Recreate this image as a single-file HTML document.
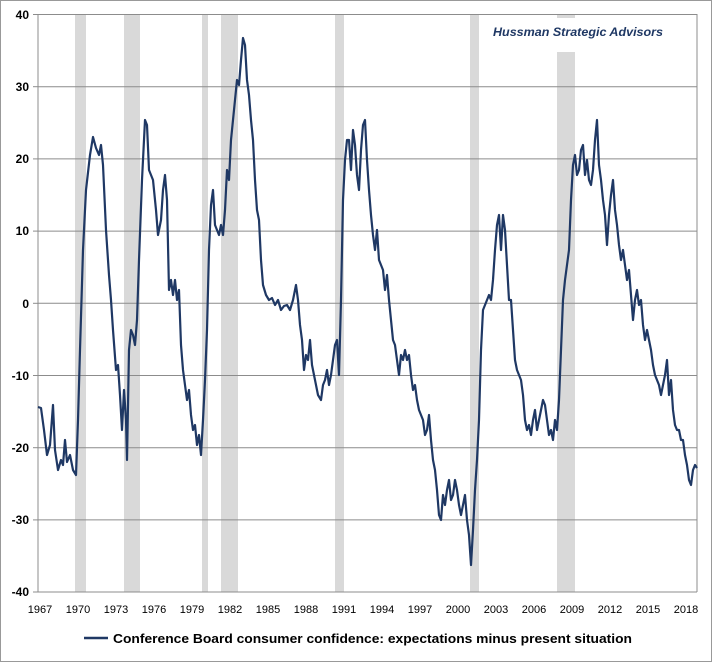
<!DOCTYPE html>
<html><head><style>body{margin:0;background:#fff}svg{display:block}</style></head><body>
<svg width="712" height="662" xmlns="http://www.w3.org/2000/svg" font-family="Liberation Sans, sans-serif">
<rect x="0.5" y="0.5" width="711" height="661" fill="#fff" stroke="#999"/>
<g fill="#d9d9d9">
<rect x="75" y="14" width="11" height="578"/><rect x="124" y="14" width="16" height="578"/>
<rect x="202" y="14" width="6" height="578"/><rect x="221" y="14" width="17" height="578"/>
<rect x="335" y="14" width="9" height="578"/><rect x="470" y="14" width="9" height="578"/>
<rect x="557" y="14" width="18" height="578"/></g>
<rect x="488" y="18" width="180" height="34" fill="#fff"/>
<g stroke="#8c8c8c" stroke-width="1">
<line x1="38" y1="14.5" x2="697" y2="14.5"/><line x1="38" y1="86.7" x2="697" y2="86.7"/>
<line x1="38" y1="158.9" x2="697" y2="158.9"/><line x1="38" y1="231.1" x2="697" y2="231.1"/>
<line x1="38" y1="303.3" x2="697" y2="303.3"/><line x1="38" y1="375.5" x2="697" y2="375.5"/>
<line x1="38" y1="447.7" x2="697" y2="447.7"/><line x1="38" y1="519.9" x2="697" y2="519.9"/>
<line x1="38" y1="592" x2="697" y2="592"/>
<line x1="38" y1="14" x2="38" y2="592"/><line x1="697" y1="14" x2="697" y2="592"/>
<line x1="33" y1="14.5" x2="38" y2="14.5"/><line x1="33" y1="86.7" x2="38" y2="86.7"/><line x1="33" y1="158.9" x2="38" y2="158.9"/><line x1="33" y1="231.1" x2="38" y2="231.1"/><line x1="33" y1="303.3" x2="38" y2="303.3"/><line x1="33" y1="375.5" x2="38" y2="375.5"/><line x1="33" y1="447.7" x2="38" y2="447.7"/><line x1="33" y1="519.9" x2="38" y2="519.9"/><line x1="33" y1="592" x2="38" y2="592"/>
</g>
<g font-size="12" font-weight="bold" fill="#000" text-anchor="end">
<text x="29" y="19">40</text><text x="29" y="91">30</text><text x="29" y="163">20</text><text x="29" y="235">10</text><text x="29" y="308">0</text><text x="29" y="380">-10</text><text x="29" y="452">-20</text><text x="29" y="524">-30</text><text x="29" y="596">-40</text>
</g>
<g font-size="11" fill="#000" text-anchor="middle">
<text x="40" y="613">1967</text><text x="78" y="613">1970</text><text x="116" y="613">1973</text><text x="154" y="613">1976</text><text x="192" y="613">1979</text><text x="230" y="613">1982</text><text x="268" y="613">1985</text><text x="306" y="613">1988</text><text x="344" y="613">1991</text><text x="382" y="613">1994</text><text x="420" y="613">1997</text><text x="458" y="613">2000</text><text x="496" y="613">2003</text><text x="534" y="613">2006</text><text x="572" y="613">2009</text><text x="610" y="613">2012</text><text x="648" y="613">2015</text><text x="686" y="613">2018</text>
</g>
<text x="493" y="36" font-size="12" font-weight="bold" font-style="italic" fill="#1f3864" textLength="170" lengthAdjust="spacingAndGlyphs">Hussman Strategic Advisors</text>
<polyline fill="none" stroke="#1f3864" stroke-width="2.2" stroke-linejoin="round" points="38,407 41,408 44,430 47,455 50,445 53,405 55,450 58,470 61,460 63,465 65,440 67,462 70,455 73,470 76,475 78,420 80,350 83,250 86,190 90,155 93,137 96,148 99,155 101,145 103,165 106,230 109,275 111,300 113,330 116,370 118,365 120,395 122,430 124,390 126,420 127,460 129,350 131,330 133,335 135,345 137,320 139,260 142,180 145,120 147,125 149,170 151,175 153,180 156,210 158,235 161,220 163,190 165,175 167,200 169,290 171,280 173,295 175,280 177,300 179,290 181,345 183,370 185,385 187,400 189,390 191,415 193,430 195,425 197,445 199,435 201,455 203,420 205,380 207,330 209,250 211,205 213,190 215,225 217,230 219,235 221,225 223,235 225,210 227,170 229,180 231,140 233,120 235,100 237,80 239,85 241,60 243,38 245,45 247,80 249,95 251,120 253,140 255,180 257,210 259,220 261,260 263,285 266,295 269,300 272,298 275,305 278,300 281,310 284,306 287,305 290,310 293,300 296,285 298,300 300,325 302,340 304,370 306,355 308,360 310,340 312,365 315,380 318,395 321,400 323,385 325,380 327,370 329,385 331,375 333,360 335,345 337,340 339,375 341,300 343,200 345,160 347,140 349,140 351,170 353,130 355,145 357,175 359,190 361,150 363,125 365,120 367,160 369,190 371,215 373,235 375,250 377,230 379,260 381,265 383,270 385,290 387,275 389,300 391,320 393,340 395,345 397,360 399,375 401,355 403,360 405,350 407,360 409,355 411,375 413,390 415,385 417,400 419,410 421,415 423,420 425,435 427,430 429,415 431,440 433,460 435,470 437,490 439,515 441,520 443,495 445,505 447,490 449,480 451,500 453,495 455,480 457,490 459,505 461,515 463,505 465,495 467,520 469,535 471,565 473,530 475,490 477,460 479,420 481,350 483,310 485,305 487,300 489,295 491,300 493,280 495,250 497,225 499,215 501,250 503,215 505,230 507,265 509,300 511,300 513,330 515,360 517,370 519,375 521,380 523,395 525,420 527,430 529,425 531,435 533,420 535,410 537,430 539,420 541,410 543,400 545,405 547,420 549,435 551,430 553,440 555,420 557,430 559,400 561,350 563,300 565,280 567,265 569,250 571,200 573,165 575,155 577,175 579,170 581,150 583,145 585,175 587,160 589,180 591,185 593,170 595,140 597,120 599,165 601,180 603,200 605,215 607,245 609,215 611,195 613,180 615,210 617,225 619,245 621,260 623,250 625,265 627,280 629,270 631,295 633,320 635,300 637,290 639,305 641,300 643,325 645,340 647,330 649,340 651,350 653,365 655,375 657,380 659,385 661,395 663,385 665,375 667,360 669,395 671,380 673,410 675,425 677,430 679,430 681,440 683,440 685,455 687,465 689,480 691,485 693,470 695,465 697,468"/>
<line x1="84" y1="638" x2="108" y2="638" stroke="#1f3864" stroke-width="2.5"/>
<text x="113" y="643" font-size="13" font-weight="bold" fill="#000" textLength="519" lengthAdjust="spacingAndGlyphs">Conference Board consumer confidence: expectations minus present situation</text>
</svg>
</body></html>
